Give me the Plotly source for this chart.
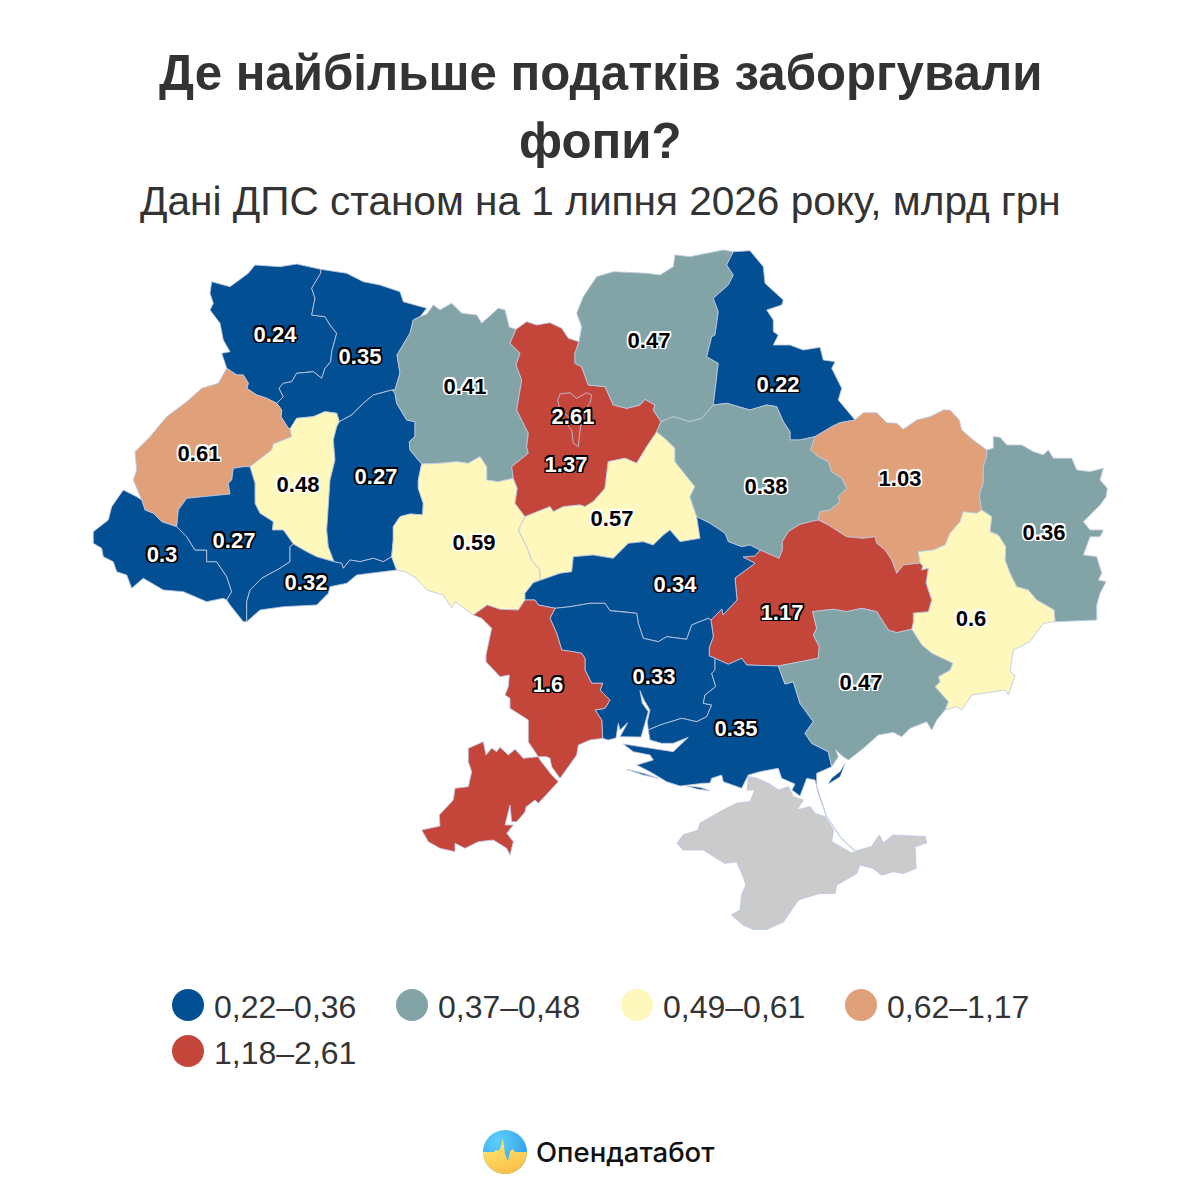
import base64
import plotly.graph_objects as go

# Значення по областях
regions = ["Волинська", "Рівненська", "Львівська", "Тернопільська", "Хмельницька", "Закарпатська",
           "Івано-Франківська", "Чернівецька", "Житомирська", "Вінницька", "Київська", "м. Київ",
           "Чернігівська", "Сумська", "Черкаська", "Полтавська", "Харківська", "Луганська",
           "Донецька", "Дніпропетровська", "Кіровоградська", "Миколаївська", "Одеська",
           "Херсонська", "Запорізька"]
values = [0.24, 0.35, 0.61, 0.48, 0.27, 0.3, 0.27, 0.32, 0.41, 0.59, 1.37, 2.61, 0.47, 0.22,
          0.57, 0.38, 1.03, 0.36, 0.6, 1.17, 0.34, 0.33, 1.6, 0.35, 0.47]
groups = [0, 0, 3, 2, 0, 0, 0, 0, 1, 2, 4, 4, 1, 0, 2, 1, 3, 1, 2, 4, 0, 0, 4, 0, 1]
group_labels = ["0,22–0,36", "0,37–0,48", "0,49–0,61", "0,62–1,17", "1,18–2,61"]
group_colors = ["#034f93", "#82a4a6", "#fef8bc", "#e0a07a", "#c4463a"]

TEXT = "#333333"
BORDER = "rgba(190,200,226,0.85)"
FONT = "Liberation Sans"

# Контури областей, піксельна сітка макета (спільні межі окремо, щоб не було щілин)
seg = {
    "volyn_n": [(320.7,269.3),(296.7,264),(280,266.7),(255,265),(248.3,273.3),(230,286.7),(211.7,281.7),(210,293.3),(213.3,303.3),(210,310),(220,323.3),(223.3,340),(230,351.7),(221.7,353.3),(226.7,368.3)],
    "volyn_lviv": [(226.7,368.3),(236.7,375),(243.3,375),(248.3,383.3),(246.7,388.3),(256.7,395),(266.7,398.3),(276.7,403.3)],
    "volyn_rivne": [(276.7,403.3),(283.3,396.7),(279,388.3),(283.3,383.3),(291.7,381.7),(296.7,373.3),(313.3,371.7),(321.7,378.3),(325,368.3),(330.7,361.7),(331.7,351.7),(336.7,333.3),(330,325),(325,316.7),(311.7,315),(315,298.3),(311.7,288.3),(320.7,273.3),(320.7,269.3)],
    "rivne_n": [(320.7,269.3),(346.7,273.3),(363.3,281.7),(380,285),(400,291.7),(403.3,301.7),(426.7,308.3),(420,316.7)],
    "rivne_zhyt": [(420,316.7),(413.3,320),(410,333.3),(397,355),(400,373),(395,390),(392,390)],
    "rivne_khm": [(392,390),(373.3,395),(363.3,403.3),(351.7,415),(339.3,421.7)],
    "rivne_tern": [(339.3,421.7),(336.7,413.3),(325,411.7),(313.3,416.7),(296.7,418.3),(290,429)],
    "rivne_lviv": [(276.7,403.3),(281.7,410),(281,416.7),(288.3,428.3),(290,429)],
    "lviv_tern": [(290,429),(291.7,436.7),(273.3,444),(271.7,450),(250,466.7)],
    "lviv_if": [(250,466.7),(243.3,466.7),(233.3,468.3),(231.7,480),(228.3,483.3),(230,494),(186.7,498.3),(178.3,510),(176.7,526.7)],
    "lviv_zak": [(176.7,526.7),(161.7,521.7),(153.3,513.3),(145,510),(141.7,500)],
    "lviv_w": [(141.7,500),(133.3,480),(136.7,470),(135,451.7),(150,436.7),(166.7,416.7),(186.7,401.7),(201.7,388.3),(218.3,383.3),(226.7,368.3)],
    "zak_out": [(141.7,500),(136.7,496.7),(123.3,490),(111.7,506.7),(108.3,520),(93.3,531.7),(93.3,543.3),(101.7,548.3),(103.3,556.7),(113.3,561.7),(116.7,571.7),(126.7,575),(131.7,588.3),(143.3,578.3),(163.3,590),(183.3,591.7),(206.7,601.7),(223.3,598.3),(226.7,600)],
    "zak_if": [(176.7,526.7),(186.7,536.7),(195,550),(206.7,550),(206.7,561.7),(216.7,561.7),(226.7,576.7),(231.7,591.7),(226.7,600)],
    "if_s": [(226.7,600),(230,605),(243.3,621.7),(246.7,621.7)],
    "if_chern": [(246.7,621.7),(246.7,601.7),(250,590),(261.7,578.3),(280,568.3),(290,561.7),(290,546.7),(293.3,544)],
    "if_tern": [(250,466.7),(255,483.3),(255,503.3),(260,513.3),(273.3,521.7),(272.3,530),(283.3,530),(293.3,544)],
    "chern_s": [(246.7,621.7),(260,610),(283.3,606.7),(316.7,605),(328.3,593.3),(330,586.7),(346.7,583.3),(356.7,575),(396.7,570)],
    "chern_vinn": [(396.7,570),(391.7,556.7)],
    "chern_tern": [(293.3,544),(306.7,551.7),(316.7,556.7),(334,561.7)],
    "chern_khm": [(334,561.7),(341.7,563.3),(343.3,568.3),(350,560),(360,561.7),(373.3,558.3),(383.3,561.7),(391.7,556.7)],
    "tern_khm": [(339.3,421.7),(336.7,426.7),(333.3,440),(335,460),(330,480),(328.3,513.3),(326.7,530),(328.3,546.7),(334,561.7)],
    "khm_zhyt": [(392,390),(395,393.3),(396.7,403.3),(406.7,420),(415,421.7),(415,436.7),(409.3,441.7),(410,450),(421.7,464)],
    "khm_vinn": [(421.7,464),(418.3,480),(418.3,488.3),(423.3,503.3),(422.7,515),(410,514),(400,516.7),(393.3,526.7),(393.3,540),(391.7,556.7)],
    "zhyt_n": [(420,316.7),(427,314),(433.3,305),(440,310),(451.7,303.3),(461.7,313.3),(476.7,315),(481.7,323.3),(498.3,308.3),(505,310),(509.3,327.3),(516,329.3)],
    "zhyt_kyiv": [(516,329.3),(510,343.3),(520,353.3),(516,365),(521.7,380),(516.7,410),(528.3,433.3),(526.7,446.7),(528.3,453.3),(511.7,466.7),(513.3,478.3)],
    "zhyt_vinn": [(421.7,464),(440,463.3),(456.7,461.7),(468.3,463.3),(480,456.7),(486.7,466.7),(486.7,480),(498.3,481.7),(513.3,478.3)],
    "vinn_kyiv": [(513.3,478.3),(517.3,488.3),(515,503.3),(525,516.7)],
    "vinn_chk": [(525,516.7),(518.3,530),(526.7,546.7),(531.7,560),(540,570),(540,580),(533.3,582.7)],
    "vinn_kir": [(533.3,582.7),(525,593.3),(525,600)],
    "vinn_od": [(525,600),(518.3,610),(500,609.3),(487.3,605),(473.3,615)],
    "vinn_s": [(396.7,570),(405,571.7),(416,578),(426.7,590),(443.3,595),(451.7,608.3),(455,601.7),(473.3,615)],
    "chk_kir": [(533.3,582.7),(560,573.3),(571.7,571.7),(573.3,556.7),(593.3,555),(613.3,558.3),(628.3,543.3),(643.3,541.7),(653.3,545),(663.3,535),(670,530),(680,541.7),(700,538.3),(696.7,516.7)],
    "kir_pol": [(696.7,516.7),(710,523.3),(725,533.3),(728.3,541.7),(741.7,546.7),(750,545),(760,550)],
    "kir_dn": [(760,550),(755,556),(743,557),(755,563.3),(735,578),(737,600),(723,615),(722,609),(711,620)],
    "kir_my": [(555,608.3),(570,606.7),(590,603.3),(605,603.3),(610,610.7),(623.3,611.7),(636.7,613.3),(638.3,623.3),(643.3,638.3),(658.3,641.7),(666.7,636.7),(686.7,639.3),(691.7,625),(708.3,618.3),(711,620)],
    "my_dn": [(711,620),(713.3,636.7),(709.3,647.3),(709.3,656),(715,658.3)],
    "my_kh": [(715,658.3),(715,670),(711.7,673.3),(715.7,686.7),(705,695),(703.3,703.3),(711.7,705),(706.7,716.7),(696.7,721.7),(681.7,718.3),(660,725),(648.3,730)],
    "my_coast": [(602.7,738.3),(608,740),(616,738),(618.3,723.3),(620,730),(627.7,722.7),(620,736.7),(641,737),(642.7,730),(646,720),(648.3,711.7),(642.3,703.3),(640,690.7),(644,700),(650,710),(647.3,721.7),(648.3,730)],
    "od_my": [(602.7,738.3),(601.7,720),(595,710),(605,708.3),(610,700),(600,690),(602.7,683.3),(591.7,683.3),(585,670),(585,658.3),(581.7,653.3),(573.3,651.7),(561.7,650),(556.7,633.3),(550,618.3),(555,608.3)],
    "od_kir": [(555,608.3),(538.3,605),(535,600),(525,600)],
    "od_outer": [(473.3,615),(481.7,618.3),(491.7,628.3),(490,636.7),(486,655),(486,661.7),(500,676.7),(509.3,675),(508.3,686.7),(505,695),(510,698.3),(510,708.3),(528.3,720),(528.3,741.7),(538.3,756.7),(546.7,756.7),(550,758.3),(551.7,766.7),(560,778.3),(576.7,755),(578.3,745),(590,740),(602.7,738.3)],
    "kh_dn": [(715,658.3),(728.3,664.3),(741.7,658.3),(746.7,665),(778.3,666)],
    "kh_zap": [(778.3,666),(785,684),(793.3,681.7),(800,703.3),(813.3,721.7),(805,733.3),(811.7,743.3),(828.3,751.7),(831.7,766.7)],
    "kh_coast": [(648.3,730),(650,740),(661.7,743.3),(673.3,743.3),(688.3,737.3),(673.3,751.7),(653.3,748.3),(623.3,744),(633.3,751.7),(650,755),(653.3,760),(636.7,765),(650,771.7),(666.7,781.7),(680,786),(703.3,783.3),(710,783),(711.7,778.3),(721.7,775),(723.3,781.7),(741.7,788.3),(748.3,775),(760,771.7),(778.3,768.3),(781.7,778.3),(795,784),(792,790),(800,796),(806.7,778.3),(815,780),(818.3,793.3),(826.7,816.7),(816.7,786.7),(816.7,773.3),(831.7,766.7)],
    "zap_coast": [(831.7,766.7),(838.3,756.7),(835.7,750),(843.3,756.7),(848.3,760),(863.3,748.3),(878.3,735),(893.3,732.3),(901.7,736.7),(910,728.3),(926.7,721.7),(931.7,730),(936.7,720),(945,710)],
    "zap_dn": [(778.3,666),(818.3,658.3),(819.3,646.7),(813.3,635),(816.7,628.3),(812.7,611.7),(833.3,609.3),(846.7,611.7),(861.7,608.3),(876.7,611.7),(888.3,630),(896.7,632.7),(911.7,629.3)],
    "don_zap": [(911.7,629.3),(921.7,645),(931.7,653.3),(952.7,663.3),(950,670),(938.3,676.7),(940,681.7),(935,686.7),(948.3,701.7),(945,710)],
    "don_coast": [(945,710),(956.7,706.7),(961.7,710),(971.7,695),(1005,690),(1008.3,695),(1011.7,685),(1015,675),(1010,671.7),(1013.3,650),(1030,641.7),(1043.3,623.3),(1055,621.7)],
    "don_luh": [(1055,621.7),(1054,610),(1036.7,600),(1028.3,590),(1016.7,586.7),(1010,573.3),(1005,560),(1005.7,546.7),(998.3,535),(990,531.7),(991.7,516.7),(981.7,510)],
    "don_khar": [(981.7,510),(976.7,513.3),(963.3,511.7),(960,521.7),(950,533.3),(945,545),(933.3,550),(918.3,551.7),(920,563)],
    "don_dn": [(920,563),(922.7,566),(921.7,570),(928.3,568.3),(926,583),(931.7,600),(928.3,611.7),(913.3,613),(913.3,622),(911.7,629.3)],
    "dn_khar": [(818.3,520),(828.3,525),(846.7,536.7),(863.3,538.3),(875,536.7),(876.7,543.3),(885,550),(891.7,560),(896.7,573.3),(903.3,565),(920,563)],
    "dn_pol": [(760,550),(779,558.3),(782.3,550),(782.3,541.7),(788.3,531.7),(800,524.3),(813.3,521),(818.3,520)],
    "pol_khar": [(815,436.7),(810.7,450),(818.3,456.7),(828.3,461.7),(831.7,471.7),(841.7,478.3),(846.7,488.3),(838.3,496.7),(840,501.7),(830,510),(820,511.7),(818.3,520)],
    "sumy_khar": [(855,420),(840,422.7),(831.7,426.7),(815,436.7)],
    "khar_n": [(855,420),(863.3,412.7),(876.7,412.7),(886.7,422.7),(896.7,423.3),(903.3,429.3),(916.7,420),(930,416.7),(943.3,410),(950,410),(959.3,420),(961.7,430),(973.3,440),(986.7,450)],
    "khar_luh": [(986.7,450),(986.7,456.7),(983.3,466.7),(983.3,483.3),(979.3,495),(981.7,510)],
    "luh_out": [(986.7,450),(993.3,448.3),(993.3,436.7),(1000,437.3),(1006.7,445),(1021.7,445),(1033.3,451.7),(1043.3,455),(1048.3,450),(1053.3,458.3),(1071.7,458.3),(1076.7,470),(1090,471.7),(1103.3,468.3),(1100,480),(1107.3,488.3),(1106,496.7),(1100,505),(1090,515),(1083.3,521.7),(1090,530),(1103.3,530),(1100,536.7),(1090,536.7),(1083.3,555),(1096.7,556.7),(1101.7,573.3),(1098.3,580),(1106,581.7),(1100,593.3),(1096.7,605),(1096.7,620),(1055,621.7)],
    "sumy_out": [(733.3,251.7),(750,250.7),(763.3,266.7),(765,283.3),(783.3,300),(781.7,305),(766.7,310),(773.3,320),(773.3,331.7),(778.3,335),(773.3,345),(790,345),(803.3,350),(820,347.3),(823.3,360),(835,361.7),(831.7,368.3),(841.7,388.3),(838.3,400),(855,420)],
    "sumy_chn": [(733.3,251.7),(726.7,265),(733.3,275),(728.3,285),(713.3,298.3),(718.3,311.7),(715,335),(711.7,336.7),(706.7,356.7),(718.3,363.3),(713.3,405)],
    "sumy_pol": [(713.3,405),(726.7,403.3),(750,410),(766.7,405),(776.7,406.7),(783.3,421.7),(790,431.7),(790,440),(800,440),(815,436.7)],
    "chn_n": [(579,341.7),(581.7,326.7),(576.7,313.3),(583.3,296.7),(596.7,276.7),(613.3,271.7),(646.7,273.3),(660,275),(673.3,266.7),(675,255),(690,256.7),(723.3,250),(733.3,251.7)],
    "chn_kyiv": [(579,341.7),(575,353.3),(575,363.3),(581.7,366.7),(588.3,385),(605,386.7),(613.3,405),(626.7,408.3),(640,405),(645,399.3),(655,405),(653.3,410),(661,421.7)],
    "chn_pol": [(661,421.7),(673.3,416.7),(690,421.7),(701.7,418.3),(713.3,405)],
    "pol_kyiv": [(661,421.7),(656.7,431.7)],
    "kyiv_n": [(516,329.3),(526.7,321.7),(536.7,325),(550,322.7),(561.7,328.3),(568.3,338.3),(579,341.7)],
    "kyiv_chk": [(525,516.7),(536.7,511.7),(550,506.7),(553.3,511.7),(563.3,506.7),(580,505),(585,506.7),(593.3,501.7),(605,488.3),(608.3,461.7),(625,458.3),(636.7,463.3),(646.7,446.7),(656.7,431.7)],
    "chk_pol": [(656.7,431.7),(666.7,440),(675,448.3),(675,461.7),(695,486.7),(690,496.7),(696.7,516.7)],
}

rings = {
    "Волинська": ["volyn_n", "volyn_lviv", "volyn_rivne"],
    "Рівненська": ["rivne_n", "rivne_zhyt", "rivne_khm", "rivne_tern", "-rivne_lviv", "volyn_rivne"],
    "Львівська": ["volyn_lviv", "rivne_lviv", "lviv_tern", "lviv_if", "lviv_zak", "lviv_w"],
    "Тернопільська": ["rivne_tern", "lviv_tern", "if_tern", "chern_tern", "-tern_khm"],
    "Хмельницька": ["rivne_khm", "tern_khm", "chern_khm", "-khm_vinn", "-khm_zhyt"],
    "Закарпатська": ["zak_out", "-zak_if", "lviv_zak"],
    "Івано-Франківська": ["lviv_if", "zak_if", "if_s", "if_chern", "-if_tern"],
    "Чернівецька": ["chern_s", "chern_vinn", "-chern_khm", "-chern_tern", "-if_chern"],
    "Житомирська": ["zhyt_n", "zhyt_kyiv", "-zhyt_vinn", "-khm_zhyt", "-rivne_zhyt"],
    "Вінницька": ["zhyt_vinn", "vinn_kyiv", "vinn_chk", "vinn_kir", "vinn_od", "-vinn_s", "chern_vinn", "-khm_vinn"],
    "Київська": ["kyiv_n", "chn_kyiv", "pol_kyiv", "-kyiv_chk", "-vinn_kyiv", "-zhyt_kyiv"],
    "Чернігівська": ["chn_n", "sumy_chn", "-chn_pol", "-chn_kyiv"],
    "Сумська": ["sumy_out", "sumy_khar", "-sumy_pol", "-sumy_chn"],
    "Черкаська": ["kyiv_chk", "chk_pol", "-chk_kir", "-vinn_chk"],
    "Полтавська": ["chn_pol", "sumy_pol", "pol_khar", "-dn_pol", "-kir_pol", "-chk_pol", "-pol_kyiv"],
    "Харківська": ["khar_n", "khar_luh", "don_khar", "-dn_khar", "-pol_khar", "-sumy_khar"],
    "Луганська": ["luh_out", "don_luh", "-khar_luh"],
    "Донецька": ["don_luh", "don_khar", "don_dn", "don_zap", "don_coast"],
    "Дніпропетровська": ["dn_pol", "dn_khar", "don_dn", "-zap_dn", "-kh_dn", "-my_dn", "-kir_dn"],
    "Кіровоградська": ["chk_kir", "kir_pol", "kir_dn", "-kir_my", "od_kir", "-vinn_kir"],
    "Миколаївська": ["kir_my", "my_dn", "my_kh", "-my_coast", "od_my"],
    "Одеська": ["od_outer", "od_my", "od_kir", "vinn_od"],
    "Херсонська": ["-my_kh", "kh_dn", "kh_zap", "-kh_coast"],
    "Запорізька": ["-kh_zap", "zap_dn", "don_zap", "-zap_coast"],
}

# Окремі шматки: Буджак, коси
extra_parts = {
    "Одеська": [[(468.3,748.3),(483.3,741.7),(486,755),(491.7,748.3),(496.7,751.7),(500,747.3),(508.3,755),(515,749.3),(523.3,758.3),(538.3,756.7),(540,760),(551.7,775),(558.3,781.7),(538.3,803.3),(535,800),(526,807),(525,812),(516.7,821.7),(511.7,821.7),(510,805),(505,825),(513.3,825),(506.7,833.3),(513.3,841.7),(510,855),(506.7,848.3),(493.3,840),(478.3,841.7),(465,848.3),(455,843.3),(455,851.7),(440,848.3),(428.3,841.7),(421.7,830),(440,826),(439.3,815),(453.3,800),(455,788.3),(468.3,786.7),(471.7,771.7),(468.3,761.7)]],
    "Херсонська": [[(626.7,769.3),(643.3,773.3),(658.3,778.3),(643.3,775)],
                   [(686.7,786),(700,787.3),(710,790.7),(696.7,789)]],
}
zap_spit = [(845,763.3),(840,776.7),(828.3,784),(831.7,778.3),(840,771.7)]
crimea = [(748.3,776.7),(747.3,790),(755,790),(750,801.7),(736.7,803.3),(720,811.7),(700,823.3),(698.3,830),(683.3,835),(677.3,843.3),(683.3,850),(703.3,850),(725,863.3),(736.7,861.7),(743.3,876.7),(746,885),(741.7,895),(740,910),(731.7,915),(743.3,925),(753.3,929.3),(766.7,929.3),(783.3,921.7),(798.3,900),(820,893.3),(835,893.3),(836.7,885),(856.7,873.3),(860,865),(873.3,868.3),(881.7,875),(893.3,871.7),(903.3,873.3),(916,868.3),(915,846.7),(926.7,842.7),(925,836.7),(893.3,835),(883.3,843.3),(879.3,835),(871.7,846.7),(856.7,850.7),(851.7,853.3),(831.7,841.7),(833.3,830),(825,816.7),(815,813.3),(810,806.7),(796.7,810),(803.3,800),(793.3,796.7),(788.3,786.7),(778.3,790),(768.3,783.3),(756.7,778.3)]
arabat = [(826.7,816.7),(841,838),(855,851)]
sevastopol = [(741.7,895),(750,895),(745,903.3),(751.7,913.3),(758.3,920),(760,926.7)]
kyiv_city = [(560,394),(570,392.7),(576.7,398.3),(586.7,392.7),(591.7,395),(590,403.3),(583.3,411.7),(580,430),(578.3,446.7),(573.3,443.3),(571.7,430),(568.3,426.7),(568.3,416.7),(560,410),(557.7,400),(560,394)]

# Підписи, в порядку regions
label_x = [275, 360, 199, 298, 376, 162, 234, 306, 465, 474, 566, 573, 649, 778, 612, 766, 900, 1044, 971, 782, 675, 654, 548, 736, 861]
label_y = [336, 358, 455, 486, 478, 556, 542, 584, 388, 544, 466, 418, 342, 386, 520, 488, 480, 534, 620, 614, 586, 678, 686, 730, 684]


def ring_points(names):
    pts = []
    for name in names:
        part = seg[name[1:]][::-1] if name.startswith("-") else seg[name]
        pts.extend(part)
    return pts


def xy(parts):
    xs, ys = [], []
    for part in parts:
        xs += [p[0] for p in part] + [part[0][0], None]
        ys += [p[1] for p in part] + [part[0][1], None]
    return xs, ys


def outline(color):
    # обведення підпису через text-shadow
    d = 1.6
    dirs = [(d, 0), (-d, 0), (0, d), (0, -d), (d, d), (-d, d), (d, -d), (-d, -d)]
    return ", ".join(f"{a}px {b}px 0.6px {color}" for a, b in dirs)


fig = go.Figure()

xs, ys = xy([crimea])
fig.add_trace(go.Scatter(x=xs, y=ys, mode="lines", fill="toself", fillcolor="#cbcbcb",
                         line=dict(color=BORDER, width=1.2), hoverinfo="skip"))

for name, group in zip(regions, groups):
    if name not in rings:
        continue
    xs, ys = xy([ring_points(rings[name])] + extra_parts.get(name, []))
    fig.add_trace(go.Scatter(x=xs, y=ys, mode="lines", fill="toself", fillcolor=group_colors[group],
                             line=dict(color=BORDER, width=1), name=name, hoverinfo="name"))

xs, ys = xy([zap_spit])
fig.add_trace(go.Scatter(x=xs, y=ys, mode="lines", fill="toself", fillcolor=group_colors[0],
                         line=dict(color=BORDER, width=0.5), hoverinfo="skip"))

# внутрішні лінії: м. Київ, Севастополь, Арабатська стрілка
for part, width in [(kyiv_city, 1), (sevastopol, 1), (arabat, 1.2)]:
    fig.add_trace(go.Scatter(x=[p[0] for p in part], y=[p[1] for p in part], mode="lines",
                             line=dict(color=BORDER, width=width), hoverinfo="skip"))

for dark in [True, False]:
    idx = [i for i, g in enumerate(groups) if (g in (0, 4)) == dark]
    fig.add_trace(go.Scatter(
        x=[label_x[i] for i in idx], y=[label_y[i] for i in idx],
        text=[str(values[i]) for i in idx],
        mode="text", hoverinfo="skip",
        textfont=dict(family=FONT, size=22, weight="bold", color="white" if dark else "black",
                      shadow=outline("black" if dark else "white")),
    ))

# легенда
legend_x = [188, 412, 637, 861, 188]
legend_y = [1005, 1005, 1005, 1005, 1051]
fig.add_trace(go.Scatter(
    x=legend_x, y=legend_y, mode="markers", hoverinfo="skip",
    marker=dict(size=32, color=group_colors, line=dict(width=0)),
))
fig.add_trace(go.Scatter(
    x=[v + 26 for v in legend_x], y=[v + 5 for v in legend_y], mode="text", text=group_labels,
    textposition="middle right", hoverinfo="skip",
    textfont=dict(family=FONT, size=32, color=TEXT),
))

logo_svg = """<svg xmlns='http://www.w3.org/2000/svg' viewBox='0 0 44 44'>
<defs><radialGradient id='b' cx='0.35' cy='0.25' r='0.8'><stop offset='0' stop-color='#5fd0fd'/><stop offset='1' stop-color='#2f98e6'/></radialGradient>
<linearGradient id='y' x1='0.2' y1='0' x2='0.6' y2='1'><stop offset='0' stop-color='#fdec74'/><stop offset='1' stop-color='#fbbd45'/></linearGradient>
<clipPath id='c'><circle cx='22' cy='22' r='22'/></clipPath></defs>
<g clip-path='url(#c)'><rect width='44' height='44' fill='url(#b)'/>
<path d='M0 22 H11 L13 20 L15 21 L17 19 L20 9 L22 24 L25 31 L27 21 L30 19 L32 22 H44 V44 H0 Z' fill='url(#y)'/></g></svg>"""
logo_uri = "data:image/svg+xml;base64," + base64.b64encode(logo_svg.encode()).decode()
fig.add_layout_image(dict(source=logo_uri, xref="x", yref="y", x=483, y=1130, sizex=44, sizey=44,
                          xanchor="left", yanchor="top", sizing="stretch", layer="above"))

texts = [
    ("Де найбільше податків заборгували", 600, 72, 49.2, "bold"),
    ("фопи?", 600, 140, 49.2, "bold"),
    ("Дані ДПС станом на 1 липня 2026 року, млрд грн", 600, 201, 40.6, "normal"),
]
for text, x, y, size, weight in texts:
    fig.add_annotation(x=x, y=y, text=text, showarrow=False, xanchor="center", yanchor="middle",
                       font=dict(family=FONT, size=size, weight=weight, color=TEXT))
fig.add_annotation(x=536, y=1152, text="Опендатабот", showarrow=False, xanchor="left", yanchor="middle",
                   xshift=-2, font=dict(family="Inter", size=27.5, weight=500, color="#111111"))

fig.update_layout(
    width=1184, height=1184, margin=dict(l=0, r=0, t=0, b=0),
    paper_bgcolor="white", plot_bgcolor="white", showlegend=False,
    xaxis=dict(range=[8, 1192], visible=False, fixedrange=True),
    yaxis=dict(range=[1192, 8], visible=False, fixedrange=True),
)

fig.write_html("out.html")
